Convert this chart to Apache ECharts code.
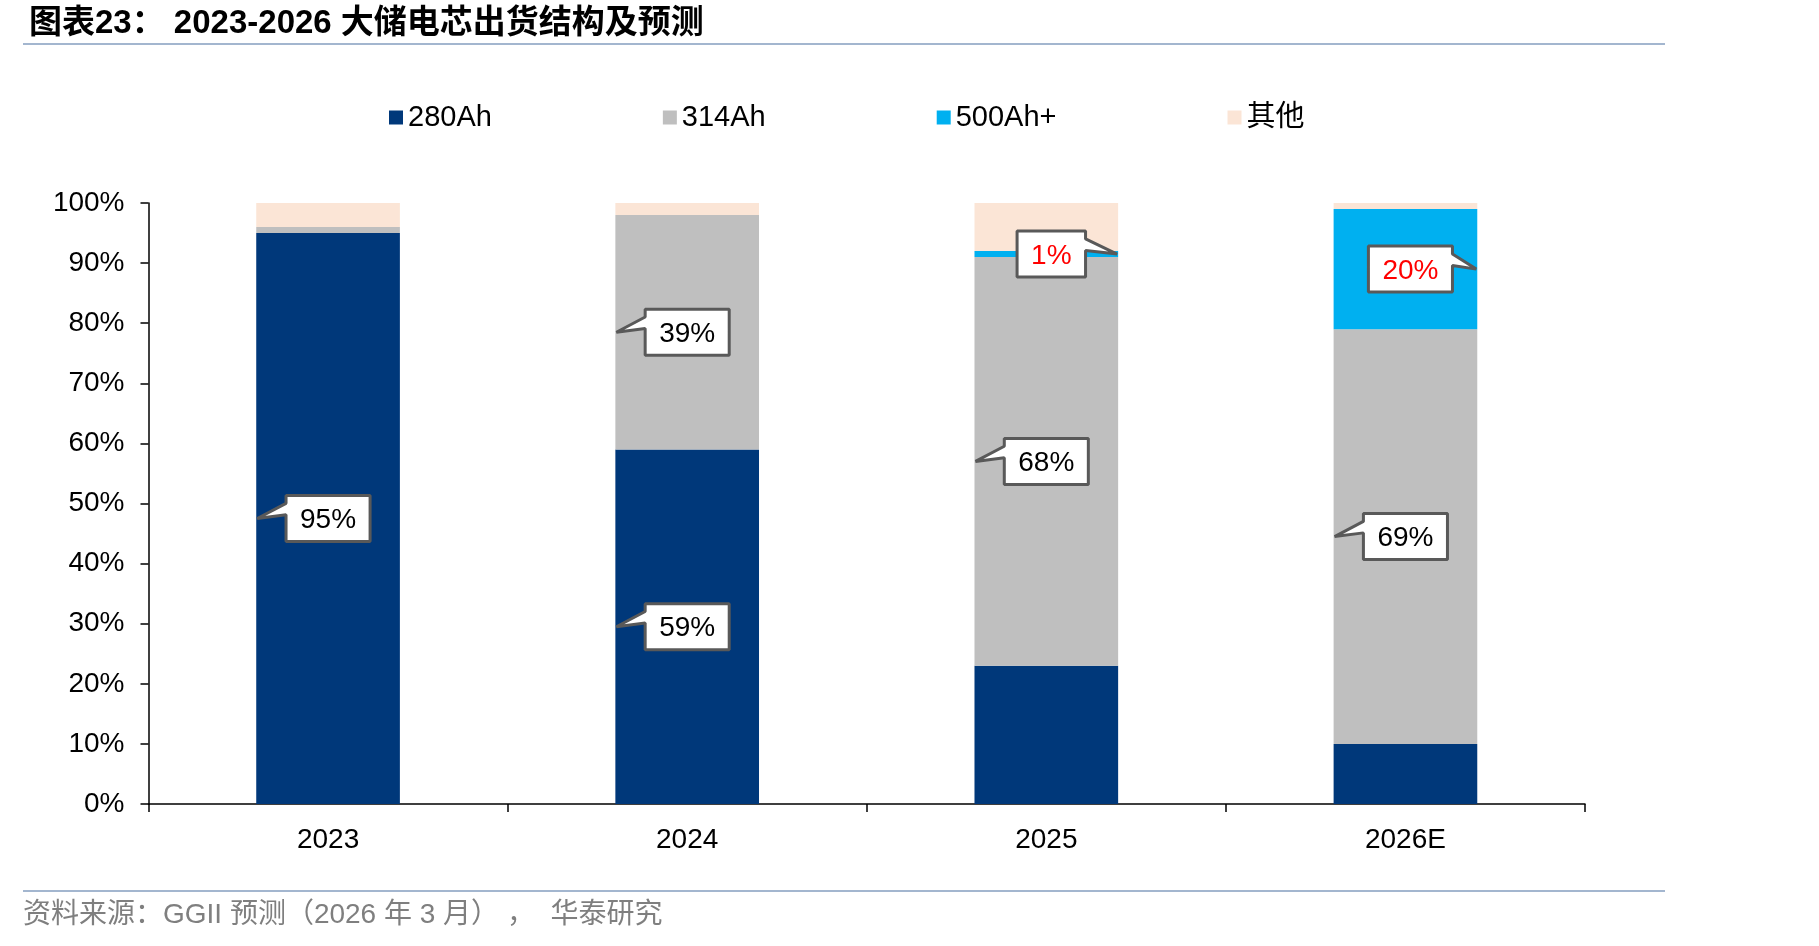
<!DOCTYPE html>
<html>
<head>
<meta charset="utf-8">
<title>大储电芯出货结构及预测</title>
<script src="https://cdn.jsdelivr.net/npm/echarts@6/dist/echarts.min.js"></script>
<style>
    html, body { margin: 0; padding: 0; background: #fff; }
    #tmpEchart { width: 1819px; height: 946px; }
</style>
</head>
<body>
<div id="tmpEchart"></div>
<script>
var categories = ['2023', '2024', '2025', '2026E'];
var seriesNames = ['280Ah', '314Ah', '500Ah+', '其他'];
var s280 = [95, 59, 23, 10];
var s314 = [1, 39, 68, 69];
var s500 = [0, 0, 1, 20];
var sOther = [4, 2, 8, 1];
var yTicks = [0, 10, 20, 30, 40, 50, 60, 70, 80, 90, 100];
// 带标注框的格子: [类别序号, 系列序号]
var calloutCells = [[0, 0], [1, 0], [1, 1], [2, 1], [3, 1], [2, 2], [3, 2]];

var colors = ['#00387A', '#BFBFBF', '#00B0F0', '#FBE5D6'];
var fontFamily = "'Liberation Sans', Arial, 'Noto Sans CJK SC', sans-serif";
var barRatio = 0.4;

var myChart = echarts.init(document.getElementById('tmpEchart'));
var allData = [s280, s314, s500, sOther];

// 计算标注框数据: 类别, 起点, 数值, 系列
function buildCallouts() {
    var list = [];
    for (var i = 0; i < calloutCells.length; i++) {
        var c = calloutCells[i][0];
        var si = calloutCells[i][1];
        var base = 0;
        for (var k = 0; k < si; k++) {
            base += allData[k][c];
        }
        list.push([c, base, allData[si][c], si]);
    }
    return list;
}

var measureCtx = document.createElement('canvas').getContext('2d');
function textWidth(text, font) {
    measureCtx.font = font;
    return measureCtx.measureText(text).width;
}

function renderCallout(params, api) {
    var cat = api.value(0);
    var base = api.value(1);
    var val = api.value(2);
    var si = api.value(3);
    var pt = api.coord([cat, base + val / 2]);
    var band = api.size([1, 0])[0];
    var barW = band * barRatio;
    var right = si === 2;
    var text = val + '%';
    var font = '28px ' + fontFamily;
    var w = textWidth(text, font) + 28;
    var h = 46;
    var cx = pt[0] + (right ? 5 : 0);
    var x0 = cx - w / 2, x1 = cx + w / 2;
    var y0 = pt[1] - h / 2, y1 = pt[1] + h / 2;
    var pts;
    if (right) {
        var tipR = [pt[0] + barW / 2 - 1, pt[1]];
        pts = [[x0, y0], [x1, y0], [x1, y0 + 0.17 * h], tipR, [x1, y0 + 0.42 * h], [x1, y1], [x0, y1]];
    } else {
        var tipL = [pt[0] - barW / 2 + 1, pt[1]];
        pts = [[x0, y0], [x1, y0], [x1, y1], [x0, y1], [x0, y0 + 0.42 * h], tipL, [x0, y0 + 0.17 * h]];
    }
    return {
        type: 'group',
        children: [{
            type: 'polygon',
            shape: { points: pts },
            style: { fill: '#fff', stroke: '#595959', lineWidth: 3, lineJoin: 'bevel' }
        }, {
            type: 'text',
            x: cx,
            y: pt[1] + 2,
            style: {
                text: text,
                font: font,
                fill: right ? '#FF0000' : '#000',
                align: 'center',
                verticalAlign: 'middle'
            }
        }]
    };
}

var series = [];
for (var i = 0; i < seriesNames.length; i++) {
    series.push({
        name: seriesNames[i],
        type: 'bar',
        stack: 'total',
        barWidth: (barRatio * 100) + '%',
        itemStyle: { color: colors[i] },
        data: allData[i]
    });
}
series.push({
    name: 'callout',
    type: 'custom',
    z: 10,
    renderItem: renderCallout,
    data: buildCallouts()
});

var option = {
    animation: false,
    backgroundColor: '#fff',
    title: {
        text: '图表23： 2023-2026 大储电芯出货结构及预测',
        left: 24,
        top: 2,
        textStyle: {
            fontFamily: fontFamily,
            fontSize: 33,
            fontWeight: 'bold',
            color: '#000'
        }
    },
    legend: {
        data: seriesNames,
        left: 389,
        top: 103,
        padding: 0,
        icon: 'rect',
        itemWidth: 14,
        itemHeight: 14,
        itemGap: 171,
        textStyle: { fontFamily: fontFamily, fontSize: 29, color: '#000' }
    },
    grid: {
        left: 148.5,
        right: 234,
        top: 203,
        bottom: 142
    },
    xAxis: {
        type: 'category',
        data: categories,
        axisLine: { lineStyle: { color: '#000', width: 1.5 } },
        axisTick: { show: true, length: 8, lineStyle: { color: '#000', width: 1.5 } },
        axisLabel: { margin: 22, fontFamily: fontFamily, fontSize: 28, color: '#000' }
    },
    yAxis: {
        type: 'value',
        min: yTicks[0],
        max: yTicks[yTicks.length - 1],
        interval: 10,
        axisLine: { show: true, lineStyle: { color: '#000', width: 1.5 } },
        axisTick: { show: true, length: 8, lineStyle: { color: '#000', width: 1.5 } },
        splitLine: { show: false },
        axisLabel: {
            margin: 24,
            padding: [4, 0, 0, 0],
            formatter: '{value}%',
            fontFamily: fontFamily,
            fontSize: 28,
            color: '#000'
        }
    },
    graphic: [{
        type: 'line',
        shape: { x1: 23, y1: 44, x2: 1665, y2: 44 },
        style: { stroke: '#A3B6CF', lineWidth: 2 }
    }, {
        type: 'line',
        shape: { x1: 23, y1: 891, x2: 1665, y2: 891 },
        style: { stroke: '#A3B6CF', lineWidth: 2 }
    }, {
        type: 'text',
        left: 23,
        top: 901,
        style: {
            text: '资料来源：GGII 预测（2026 年 3 月） ，  华泰研究',
            font: '28px ' + fontFamily,
            fill: '#7F7F7F'
        }
    }],
    series: series
};
myChart.setOption(option);
</script>
</body>
</html>
